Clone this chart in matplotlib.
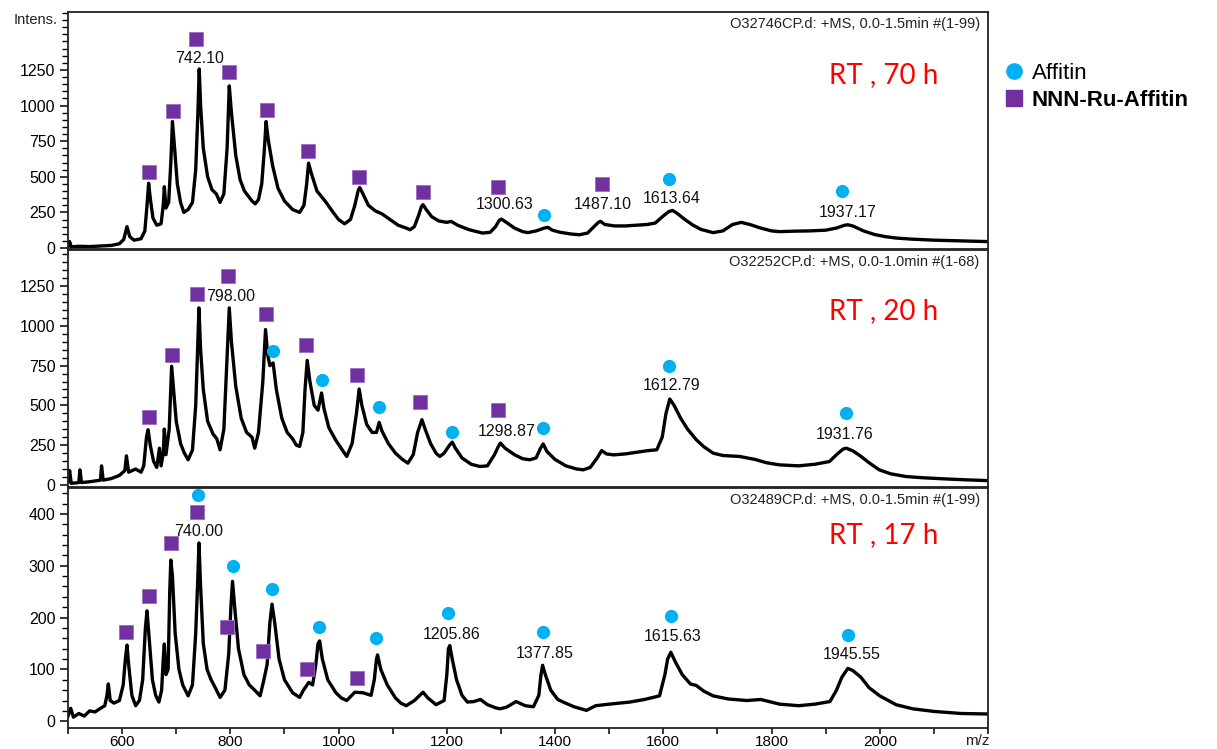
import matplotlib
matplotlib.use('Agg')
import matplotlib.pyplot as plt
from matplotlib.lines import Line2D

plt.rcParams['font.family'] = ['Liberation Sans', 'DejaVu Sans']

# ---- spectra (m/z, intensity) ----
mz_70 = [500, 503, 506, 520, 540, 560, 580, 595, 603, 609, 614, 622, 635, 642, 646, 649, 652, 657, 664, 672,
         676, 678, 681, 686, 690, 693, 697, 702, 708, 714, 722, 730, 736, 740, 742.5, 745, 750, 758, 766, 774,
         781, 788, 794, 798, 802, 810, 818, 826, 834, 840, 846, 852, 858, 863, 866, 870, 878, 888, 900, 915,
         928, 936, 941, 944.5, 950, 960, 975, 990, 1000, 1011, 1022, 1030, 1036, 1039, 1045, 1055, 1068, 1080,
         1095, 1110, 1125, 1132, 1140, 1148, 1153, 1156, 1162, 1172, 1185, 1200, 1208, 1220, 1240, 1255, 1266,
         1280, 1290, 1297, 1301, 1310, 1325, 1340, 1350, 1365, 1380, 1387, 1395, 1410, 1430, 1445, 1460, 1472,
         1480, 1484, 1492, 1510, 1530, 1550, 1570, 1585, 1600, 1610, 1617, 1625, 1640, 1655, 1670, 1692, 1710,
         1728, 1744, 1760, 1780, 1800, 1815, 1840, 1870, 1900, 1920, 1935, 1941, 1950, 1970, 1990, 2010, 2030,
         2060, 2100, 2150, 2200]
int_70 = [10, 45, 8, 12, 10, 14, 18, 30, 60, 150, 80, 55, 65, 120, 300, 455, 350, 210, 160, 170,
          300, 430, 280, 320, 600, 888, 700, 450, 320, 250, 270, 320, 550, 950, 1257, 1000, 700, 500, 410, 380,
          320, 380, 700, 1138, 950, 650, 480, 400, 360, 330, 310, 340, 450, 700, 888, 760, 580, 420, 330, 270,
          250, 300, 450, 596, 520, 400, 330, 250, 200, 170, 200, 300, 400, 425, 380, 300, 260, 240,
          200, 160, 140, 128, 150, 230, 290, 304, 270, 220, 190, 180, 187, 160, 130, 115, 105,
          110, 150, 195, 203, 180, 140, 115, 108, 120, 140, 145, 125, 110, 98, 93, 105, 150,
          180, 187, 165, 155, 155, 160, 165, 175, 225, 255, 264, 245, 200, 160, 130, 108, 120,
          165, 180, 165, 140, 120, 115, 118, 120, 125, 140, 160, 163, 155, 120, 95, 80, 70,
          62, 55, 50, 45]

mz_20 = [500, 503, 506, 520, 522, 525, 540, 560, 562, 565, 580, 595, 605, 608, 612, 625, 635, 640, 645, 648,
         652, 658, 664, 669, 672, 676, 678, 681, 687, 691.5, 695, 700, 708, 715, 722, 730, 736, 740, 742, 745,
         750, 758, 768, 775, 781, 788, 794, 798, 802, 810, 820, 830, 840, 845, 852, 860, 865, 869, 873, 879,
         885, 895, 905, 915, 922, 928, 934, 938, 942, 947, 955, 962, 968.5, 973, 982, 995, 1005, 1015, 1025,
         1033, 1038, 1043, 1052, 1062, 1070, 1075, 1080, 1092, 1105, 1118, 1128, 1138, 1146, 1154, 1160, 1170,
         1180, 1187, 1195, 1205, 1210, 1216, 1228, 1245, 1261, 1275, 1288, 1295, 1299, 1308, 1325, 1340, 1353,
         1365, 1373, 1378, 1385, 1400, 1420, 1440, 1452, 1465, 1478, 1486, 1495, 1508, 1530, 1550, 1570, 1588,
         1598, 1605, 1612, 1620, 1632, 1645, 1661, 1675, 1692, 1710, 1741, 1770, 1790, 1815, 1850, 1880, 1907,
         1920, 1932, 1938, 1950, 1965, 1980, 1999, 2020, 2048, 2080, 2120, 2160, 2200]
int_20 = [20, 90, 10, 15, 95, 15, 20, 30, 120, 30, 40, 60, 90, 183, 80, 100, 80, 120, 300, 347,
          250, 150, 110, 231, 120, 200, 351, 190, 350, 746, 600, 400, 260, 200, 158, 220, 500, 900, 1113, 850,
          600, 400, 320, 290, 221, 350, 800, 1113, 900, 620, 420, 330, 300, 231, 330, 650, 977, 820, 750, 767,
          600, 420, 330, 290, 250, 242, 330, 600, 783, 650, 500, 470, 578, 480, 360, 280, 230, 179, 260,
          450, 603, 500, 380, 330, 330, 393, 340, 260, 200, 160, 137, 190, 330, 410, 350, 260,
          200, 179, 200, 250, 269, 230, 170, 130, 116, 120, 190, 240, 263, 230, 190, 165, 158,
          170, 230, 258, 210, 160, 120, 100, 95, 110, 170, 216, 195, 189, 195, 205, 215, 221,
          300, 450, 540, 500, 420, 350, 284, 240, 200, 185, 179, 160, 140, 126, 120, 130, 147,
          190, 225, 231, 215, 180, 140, 95, 70, 53, 45, 38, 32, 27]

mz_17 = [500, 505, 510, 520, 530, 540, 550, 560, 568, 572, 574.5, 578, 585, 595, 602, 606, 609, 612, 618, 625,
         632, 638, 643, 646, 650, 656, 662, 668, 673, 676, 678, 681, 685, 688, 690, 693, 698, 705, 712, 722,
         730, 736, 740, 742, 745, 750, 757, 764, 772, 781, 790, 797, 801, 804, 808, 815, 825, 835, 845, 855,
         862, 868, 873, 877, 882, 890, 900, 915, 928, 935, 945, 952, 958, 962, 965, 970, 980, 995, 1005, 1015,
         1030, 1045, 1060, 1066, 1070, 1072, 1078, 1090, 1105, 1115, 1125, 1140, 1156, 1165, 1180, 1195, 1200,
         1203, 1205.5, 1210, 1218, 1228, 1238, 1250, 1262, 1275, 1290, 1298, 1310, 1328, 1345, 1360, 1370, 1374,
         1377, 1382, 1392, 1405, 1415, 1435, 1458, 1475, 1500, 1538, 1565, 1593, 1603, 1608, 1614, 1622, 1635,
         1650, 1661, 1675, 1692, 1720, 1754, 1780, 1815, 1850, 1880, 1908, 1920, 1930, 1941, 1950, 1965, 1980,
         2000, 2030, 2061, 2100, 2150, 2200]
int_17 = [10, 25, 8, 15, 10, 20, 18, 25, 30, 50, 72, 40, 35, 40, 70, 120, 147, 110, 50, 30,
          40, 80, 180, 213, 160, 80, 50, 37, 60, 120, 149, 90, 100, 250, 311, 280, 170, 100, 70, 49,
          70, 170, 280, 344, 260, 150, 100, 81, 65, 46, 60, 130, 220, 270, 220, 140, 90, 70, 60, 49,
          80, 110, 190, 226, 190, 120, 80, 55, 46, 60, 75, 70, 110, 150, 155, 120, 80, 55, 45, 40,
          56, 55, 50, 80, 120, 128, 100, 70, 45, 35, 30, 40, 56, 45, 32, 40, 90,
          140, 146, 120, 80, 50, 37, 38, 42, 32, 26, 24, 27, 38, 30, 28, 50, 90,
          108, 90, 60, 42, 37, 28, 21, 30, 33, 37, 42, 49, 90, 120, 133, 115, 90,
          72, 69, 58, 49, 43, 40, 42, 33, 30, 33, 38, 60, 85, 102, 98, 85, 65,
          49, 32, 24, 19, 15, 14]

# ---- annotations: squares = NNN-Ru-Affitin, circles = Affitin ----
sq_mz_70 = [649, 694, 736, 798, 867, 944, 1037, 1156, 1295, 1487]
sq_int_70 = [537, 962, 1467, 1233, 969, 684, 498, 392, 425, 449]
ci_mz_70 = [1379, 1610, 1930]
ci_int_70 = [234, 486, 402]
lab_70 = ['742.10', '1300.63', '1487.10', '1613.64', '1937.17']
lab_mz_70 = [744, 1307, 1488, 1616, 1940]
lab_int_70 = [1334, 302, 302, 346, 250]

sq_mz_20 = [649, 692, 739, 795, 866, 939.5, 1034, 1151, 1295]
sq_int_20 = [430, 819, 1201, 1312, 1075, 878, 689, 519, 468]
ci_mz_20 = [879, 968.5, 1075, 1210, 1377, 1610, 1938]
ci_int_20 = [840, 657, 487, 330, 357, 745, 451]
lab_20 = ['798.00', '1298.87', '1612.79', '1931.76']
lab_mz_20 = [801, 1310, 1616, 1935]
lab_int_20 = [1186, 336, 626, 315]

sq_mz_17 = [608, 649, 690, 738, 793, 861, 942, 1034]
sq_int_17 = [172, 242, 343, 404, 182, 135, 101, 83]
ci_mz_17 = [741, 805, 877, 963.5, 1069, 1202, 1377, 1615, 1941]
ci_int_17 = [436, 299, 256, 182, 160, 208, 172, 204, 167]
lab_17 = ['740.00', '1205.86', '1377.85', '1615.63', '1945.55']
lab_mz_17 = [742, 1208.5, 1381, 1618, 1949]
lab_int_17 = [367, 168, 131, 163, 128]

headers = ['O32746CP.d: +MS, 0.0-1.5min #(1-99)',
           'O32252CP.d: +MS, 0.0-1.0min #(1-68)',
           'O32489CP.d: +MS, 0.0-1.5min #(1-99)']
rt_labels = ['RT , 70 h', 'RT , 20 h', 'RT , 17 h']

purple = '#7030A0'
cyan = '#00B0F0'

fig = plt.figure(figsize=(12.17, 7.49), dpi=100)
left, width = 68 / 1217, 920 / 1217
ax1 = fig.add_axes([left, 1 - 249 / 749, width, 237 / 749])
ax2 = fig.add_axes([left, 1 - 487 / 749, width, 237 / 749])
ax3 = fig.add_axes([left, 1 - 728 / 749, width, 240 / 749])

panels = [
    (ax1, mz_70, int_70, sq_mz_70, sq_int_70, ci_mz_70, ci_int_70, lab_70, lab_mz_70, lab_int_70,
     (-7, 1657), 250, 50, 0.734),
    (ax2, mz_20, int_20, sq_mz_20, sq_int_20, ci_mz_20, ci_int_20, lab_20, lab_mz_20, lab_int_20,
     (-13, 1477), 250, 50, 0.742),
    (ax3, mz_17, int_17, sq_mz_17, sq_int_17, ci_mz_17, ci_int_17, lab_17, lab_mz_17, lab_int_17,
     (-13, 450), 100, 20, 0.805),
]

for i, (ax, mz, inten, sqx, sqy, cix, ciy, labs, lx, ly, ylim, major, minor, rt_y) in enumerate(panels):
    ax.plot(mz, inten, color='black', lw=2.4, solid_joinstyle='round')
    ax.plot(sqx, sqy, 's', color=purple, markersize=9.5, markeredgecolor='#9a6cc0', markeredgewidth=0.6,
            linestyle='none')
    ax.plot(cix, ciy, 'o', color=cyan, markersize=9.5, markeredgewidth=0, linestyle='none')
    for t, x, y in zip(labs, lx, ly):
        ax.text(x, y, t, ha='center', va='center', fontsize=11.5, color='#111111')

    ax.set_xlim(500, 2200)
    ax.set_ylim(*ylim)
    top = 1250 if major == 250 else 400
    ax.set_yticks(range(0, top + 1, major))
    ax.set_yticks(range(0, int(ylim[1]) + 1, minor), minor=True)
    ax.tick_params(axis='y', which='major', direction='out', length=6, width=1.1, labelsize=11.5, pad=3)
    ax.tick_params(axis='y', which='minor', direction='out', length=4, width=1.0)
    for s in ax.spines.values():
        s.set_linewidth(1.3)
        s.set_color('#222222')

    ax.text(0.991, 0.95, headers[i], transform=ax.transAxes, ha='right', va='center',
            fontsize=10.5, color='#222222')
    ax.text(0.827, rt_y, rt_labels[i], transform=ax.transAxes, ha='left', va='center',
            fontsize=20, color='#FF0000', family=['Lato', 'DejaVu Sans'])

    if ax is not ax3:
        ax.set_xticks([])

ax3.set_xticks(range(600, 2001, 200))
ax3.set_xticks(range(500, 2201, 100), minor=True)
ax3.tick_params(axis='x', which='both', direction='out', length=4, width=1.1, labelsize=11, pad=1)

fig.text(58 / 1217, 1 - 20 / 749, 'Intens.', ha='right', va='center', fontsize=10.5, color='#222222')
fig.text(990 / 1217, 1 - 741 / 749, 'm/z', ha='right', va='center', fontsize=11, color='#222222')

# legend drawn at the right of the panels
handles = [Line2D([], [], marker='o', color=cyan, markersize=11, linestyle='none'),
           Line2D([], [], marker='s', color=purple, markersize=11, linestyle='none')]
leg = fig.legend(handles, ['Affitin', 'NNN-Ru-Affitin'], loc='upper left',
                 bbox_to_anchor=(996 / 1217, 1 - 52 / 749), frameon=False, fontsize=16,
                 handlelength=0.6, handletextpad=0.5, labelspacing=0.25, borderpad=0)
leg.get_texts()[1].set_fontweight('bold')

fig.savefig('out.png', dpi=100)
